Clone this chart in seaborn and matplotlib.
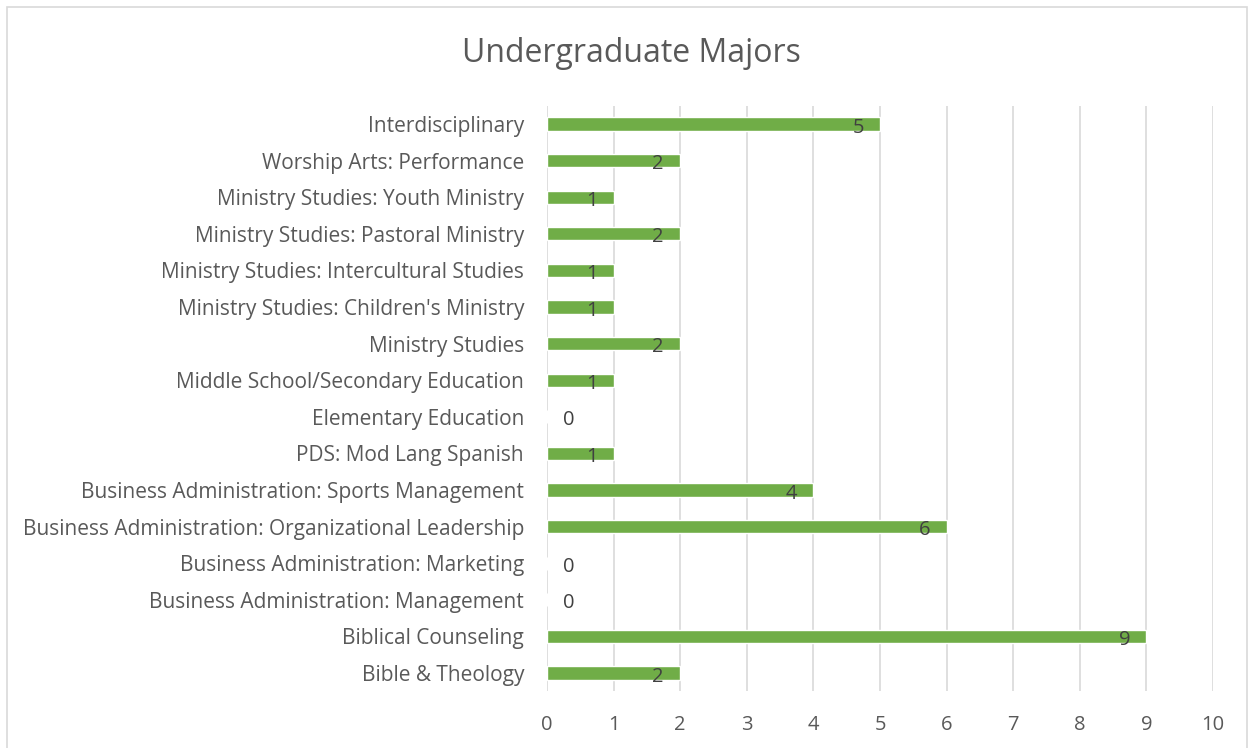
import matplotlib
matplotlib.use("Agg")
import matplotlib.pyplot as plt
import seaborn as sns
import pandas as pd
from matplotlib.patches import Rectangle

categories = [
    "Interdisciplinary",
    "Worship Arts: Performance",
    "Ministry Studies: Youth Ministry",
    "Ministry Studies: Pastoral Ministry",
    "Ministry Studies: Intercultural Studies",
    "Ministry Studies: Children's Ministry",
    "Ministry Studies",
    "Middle School/Secondary Education",
    "Elementary Education",
    "PDS: Mod Lang Spanish",
    "Business Administration: Sports Management",
    "Business Administration: Organizational Leadership",
    "Business Administration: Marketing",
    "Business Administration: Management",
    "Biblical Counseling",
    "Bible & Theology",
]
values = [5, 2, 1, 2, 1, 1, 2, 1, 0, 1, 4, 6, 0, 0, 9, 2]
x_ticks = list(range(0, 11))

df = pd.DataFrame({"Major": categories, "Count": values})

sns.set_theme(style="white")
plt.rcParams["font.family"] = ["Open Sans", "DejaVu Sans"]

text_color = "#595959"
fig = plt.figure(figsize=(12.5, 7.48), dpi=100)
ax = fig.add_axes([0.4376, 0.0758, 0.5328, 0.7829])

sns.barplot(data=df, x="Count", y="Major", color="#70AD47", saturation=1,
            width=0.36, ax=ax, orient="h")

ax.set_xlim(0, 10)
ax.set_ylim(len(categories) - 0.5, -0.5)
ax.set_xticks(x_ticks)
ax.xaxis.grid(True, color="#D9D9D9", linewidth=1.2)
ax.set_axisbelow(True)
for s in ax.spines.values():
    s.set_visible(False)
ax.set_xlabel("")
ax.set_ylabel("")
ax.tick_params(axis="x", length=0, pad=17, labelsize=14.5, labelcolor=text_color)
ax.tick_params(axis="y", length=0, pad=16.5, labelsize=15, labelcolor=text_color)

for i, v in enumerate(values):
    if v > 0:
        ax.text(v - 0.33, i + 0.1, str(v), ha="center", va="center",
                fontsize=14.5, color="#404040")
    else:
        ax.text(v + 0.32, i + 0.1, str(v), ha="center", va="center",
                fontsize=14.5, color="#404040")

fig.text(0.505, 0.929, "Undergraduate Majors", ha="center", va="center",
         fontsize=23, color=text_color)

fig.patches.append(Rectangle((7 / 1250, -0.01), (1247 - 7) / 1250, 1 - 7 / 748 + 0.01,
                             transform=fig.transFigure, fill=False,
                             edgecolor="#D9D9D9", linewidth=1.2))

fig.savefig("out.png", dpi=100)
